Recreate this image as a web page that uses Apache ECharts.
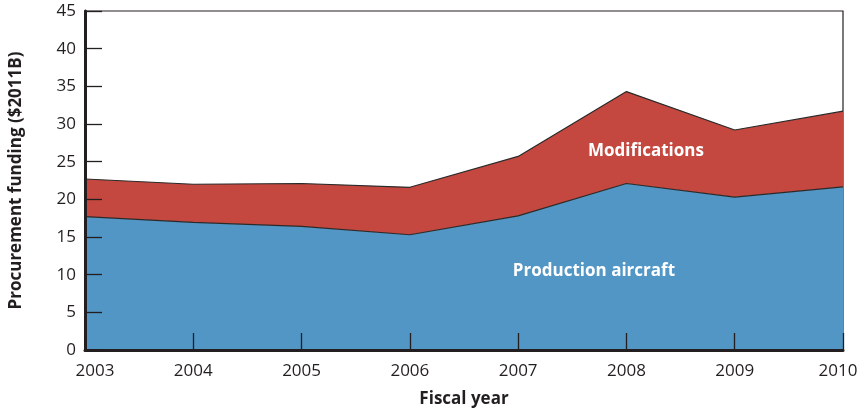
<!DOCTYPE html>
<html>
<head>
<meta charset="utf-8">
<script src="https://cdn.jsdelivr.net/npm/echarts@6/dist/echarts.min.js"></script>
<style>
html,body{margin:0;padding:0;background:#fff;}
#c{width:865px;height:413px;}
</style>
</head>
<body>
<div id="c"></div>
<script>
const years = ['2003', '2004', '2005', '2006', '2007', '2008', '2009', '2010'];
const production = [17.7, 16.95, 16.4, 15.3, 17.8, 22.1, 20.3, 21.65];
const modifications = [5.0, 5.05, 5.7, 6.3, 7.9, 12.2, 8.9, 10.05];
const yTicks = [0, 5, 10, 15, 20, 25, 30, 35, 40, 45];
// label anchors: x as fractional category index, y in $B
const areaLabels = [
  {text: 'Modifications', x: 5.18, y: 26.4},
  {text: 'Production aircraft', x: 4.70, y: 10.45}
];

const FONT = '"Open Sans", "Noto Sans", sans-serif';
const chart = echarts.init(document.getElementById('c'), null, {renderer: 'canvas'});
const last = years.length - 1;

chart.setOption({
  animation: false,
  backgroundColor: '#ffffff',
  grid: {left: 83, right: 22, top: 11, bottom: 59, show: true, borderColor: '#231f20', borderWidth: 1.2, backgroundColor: '#ffffff'},
  xAxis: {
    type: 'category', data: years, boundaryGap: false, z: 10,
    name: 'Fiscal year', nameLocation: 'middle', nameGap: 41,
    nameTextStyle: {fontFamily: FONT, fontWeight: 'bold', fontSize: 17, color: '#231f20'},
    axisLine: {show: true, lineStyle: {color: '#231f20', width: 3}},
    axisTick: {show: true, inside: true, length: 17, interval: 0, lineStyle: {color: '#231f20', width: 1.3}},
    splitLine: {show: false},
    axisLabel: {
      interval: 0,
      fontFamily: FONT, fontSize: 17, color: '#231f20', margin: 13,
      formatter: function (v, i) {
        if (i === 0) return '{first|' + v + '}';
        if (i === last) return '{last|' + v + '}';
        return v;
      },
      rich: {
        first: {fontFamily: FONT, fontSize: 17, color: '#231f20', padding: [0, 0, 0, 20]},
        last: {fontFamily: FONT, fontSize: 17, color: '#231f20', padding: [0, 10, 0, 0]}
      }
    }
  },
  yAxis: {
    type: 'value', min: yTicks[0], max: yTicks[yTicks.length - 1], interval: 5, z: 10,
    name: 'Procurement funding ($2011B)', nameLocation: 'middle', nameGap: 60, nameRotate: 90,
    nameTextStyle: {fontFamily: FONT, fontWeight: 'bold', fontSize: 17, color: '#231f20'},
    axisLine: {show: true, lineStyle: {color: '#231f20', width: 3}},
    axisTick: {show: true, inside: true, length: 17, lineStyle: {color: '#231f20', width: 1.3}},
    splitLine: {show: false},
    axisLabel: {fontFamily: FONT, fontSize: 17, color: '#231f20', margin: 9}
  },
  series: [
    {
      name: 'Production aircraft', type: 'line', stack: 'total', data: production,
      symbol: 'none', z: 1,
      lineStyle: {color: '#2a2a2a', width: 1.2},
      areaStyle: {color: '#5196c5', opacity: 1}
    },
    {
      name: 'Modifications', type: 'line', stack: 'total', data: modifications,
      symbol: 'none', z: 1,
      lineStyle: {color: '#2a2a2a', width: 1.2},
      areaStyle: {color: '#c4483f', opacity: 1}
    }
  ]
});

function toPixel(fx, y) {
  const i0 = Math.floor(fx), i1 = Math.min(i0 + 1, last);
  const p0 = chart.convertToPixel({gridIndex: 0}, [i0, y]);
  const p1 = chart.convertToPixel({gridIndex: 0}, [i1, y]);
  return [p0[0] + (p1[0] - p0[0]) * (fx - i0), p0[1]];
}

const g = areaLabels.map(function (l) {
  const p = toPixel(l.x, l.y);
  return {
    type: 'text', x: p[0], y: p[1], z: 100,
    style: {text: l.text, fill: '#ffffff', font: 'bold 17px ' + FONT, align: 'center', verticalAlign: 'middle'}
  };
});
chart.setOption({graphic: g});
</script>
</body>
</html>
